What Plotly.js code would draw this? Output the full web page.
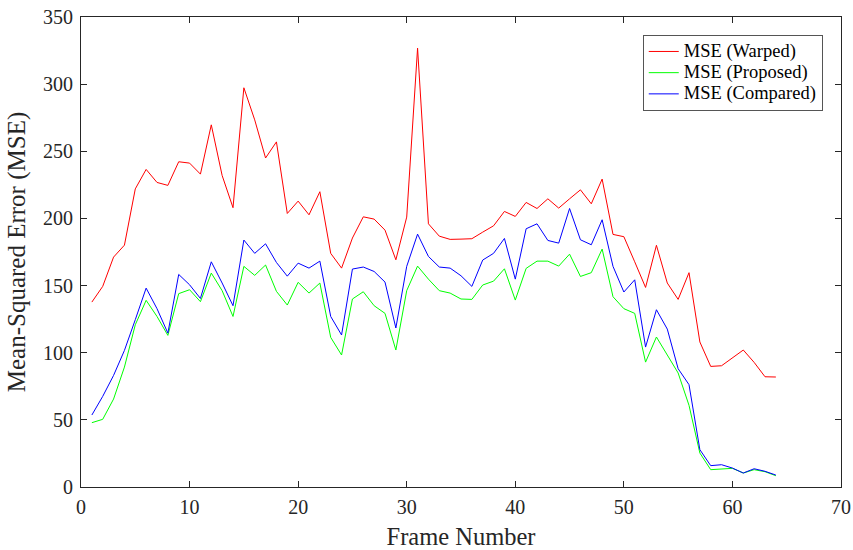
<!DOCTYPE html>
<html>
<head>
<meta charset="utf-8">
<script src="https://cdn.plot.ly/plotly-3.0.1.min.js"></script>
<style>html,body{margin:0;padding:0;background:#fff;}#chart{width:853px;height:550px;}</style>
</head>
<body>
<div id="chart"></div>
<script>
var frames = [];
for (var i = 1; i <= 64; i++) frames.push(i);

var mseWarped = [137.7,149.4,171.2,180.1,222,236.5,226.8,224.6,242.2,241.2,233,269.7,232,208,297.3,273.4,245,257,203.7,212.9,202.7,219.9,174,163,185.4,201.2,199.5,191.3,169.2,201,326.8,196,186.8,184.4,184.6,184.9,189.8,194.5,205.2,201.5,211.9,207.4,214.6,207.7,214.6,221.3,210.9,229.3,188.1,186.4,167.7,148.6,180,151.9,139.7,159.6,108,89.8,90.3,96,102,92.8,82.1,81.9];
var mseProposed = [47.9,50.4,65.5,89.3,120.8,139,127,112.9,144,146.9,138,159.3,146.2,127,164.3,157.6,165.3,145.7,135.5,152.4,144.4,151.9,111.4,98.3,140,145.4,135,129.3,102,146.2,164.5,154.8,146.2,144.4,140,139.7,150.4,153.3,162.5,139.2,162.8,168.2,168.2,164.5,173.4,156.8,159.6,177.2,141.7,132.8,129.3,93,111.7,98.5,84.9,60.8,25.3,12.9,13.6,13.9,10.4,12.9,11.4,8.4];
var mseCompared = [53.6,67.5,83.1,101.7,124.6,148.1,132.8,114.6,158.3,150.6,140.4,167.7,151.9,135,183.9,174,181.1,167.2,157,166.7,163,168.2,127,113.2,162.3,163.8,160.5,152.6,118.4,164.3,188.3,171.7,163.8,163,157.3,149.4,169,174,185.1,154.8,192.3,196,183.6,181.6,207.4,184.1,180.4,199,164.3,145.2,154.3,104.2,132,117.6,88.1,76.2,27.8,15.9,16.6,14.1,10.4,13.6,11.7,8.9];

var seriesNames = ['MSE (Warped)', 'MSE (Proposed)', 'MSE (Compared)'];
var xTicks = [0,10,20,30,40,50,60,70];
var yTicks = [0,50,100,150,200,250,300,350];

var font = '"Liberation Serif", "Times New Roman", serif';
function legendLabel(s) { return '<span style="font-size:18.5px">' + s + '</span>'; }
var traces = [
  {x: frames, y: mseWarped, name: legendLabel(seriesNames[0]), mode: 'lines', line: {color: '#ff0000', width: 1}},
  {x: frames, y: mseProposed, name: legendLabel(seriesNames[1]), mode: 'lines', line: {color: '#00ff00', width: 1}},
  {x: frames, y: mseCompared, name: legendLabel(seriesNames[2]), mode: 'lines', line: {color: '#0000ff', width: 1}}
];

var axisCommon = {
  showline: true, linecolor: '#262626', linewidth: 1, mirror: 'ticks',
  ticks: 'inside', ticklen: 6, tickcolor: '#262626', tickwidth: 1,
  showgrid: false, zeroline: false,
  tickfont: {family: font, size: 20, color: '#262626'}
};

var layout = {
  width: 853, height: 550,
  margin: {l: 80.5, r: 12, t: 17, b: 63},
  paper_bgcolor: '#fff', plot_bgcolor: '#fff',
  showlegend: true,
  legend: {
    x: 0.976, xanchor: 'right', y: 0.962, yanchor: 'top',
    bordercolor: '#555', borderwidth: 1, bgcolor: '#fff',
    font: {family: font, size: 14, color: '#000'},
    tracegroupgap: 0
  },
  xaxis: Object.assign({}, axisCommon, {
    range: [0, 70], tickvals: xTicks, ticktext: xTicks.map(String),
    ticklabelstandoff: 2,
    title: {text: 'Frame Number', font: {family: font, size: 24.5, color: '#262626'}, standoff: 10}
  }),
  yaxis: Object.assign({}, axisCommon, {
    range: [0, 350], tickvals: yTicks, ticktext: yTicks.map(String),
    ticklabelstandoff: 3,
    title: {text: 'Mean-Squared Error (MSE)', font: {family: font, size: 25, color: '#262626'}, standoff: 10}
  })
};

Plotly.newPlot('chart', traces, layout, {displayModeBar: false, staticPlot: true});
</script>
</body>
</html>
